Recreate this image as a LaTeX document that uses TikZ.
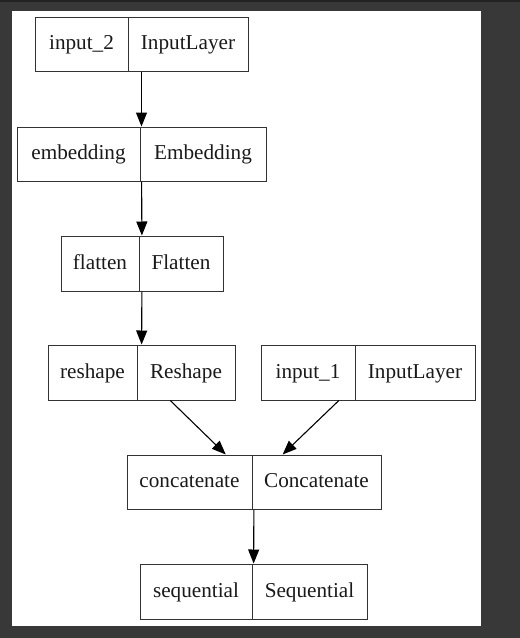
\documentclass[tikz,border=0pt]{standalone}
\usepackage{fontspec}
\setmainfont{Liberation Serif}
\usetikzlibrary{arrows.meta,fit}
\definecolor{bgdark}{HTML}{383838}
\definecolor{bgtop}{HTML}{222222}
\definecolor{boxline}{HTML}{333333}
\definecolor{txt}{HTML}{1A1A1A}
\tikzset{
  cell/.style={draw=boxline, line width=1pt, rectangle, inner sep=0pt, text=txt,
    text height=15.5pt, text depth=4pt,
    font=\fontsize{21.2}{25}\selectfont},
  whole/.style={inner sep=0pt, outer sep=0pt},
  arr/.style={draw=black, line width=1.1pt, -{Triangle[length=14pt,width=11pt]}},
}
\newcommand\recnode[8]{%
  \node[cell, minimum width={(#3-#2)*1pt}, minimum height={(#6-#5)*1pt}]
    (#1L) at ({(#2+#3)/2},{(#5+#6)/2}) {#7};
  \node[cell, minimum width={(#4-#3)*1pt}, minimum height={(#6-#5)*1pt}]
    (#1R) at ({(#3+#4)/2},{(#5+#6)/2}) {#8};
  \node[whole, fit=(#1L)(#1R)] (#1) {};
}
\begin{document}
\begin{tikzpicture}[x=1pt,y=-1pt]
\fill[bgdark] (0,0) rectangle (520,638);
\fill[bgtop] (0,0) rectangle (520,2);
\fill[white] (12,11) rectangle (481,626);
\useasboundingbox (0,0) rectangle (520,638);

\recnode{intwo}{35}{128}{248}{17}{71}{input\_2}{InputLayer}
\recnode{emb}{17}{140}{266}{127}{181}{embedding}{Embedding}
\recnode{fla}{61}{139}{223}{236}{291}{flatten}{Flatten}
\recnode{res}{48}{137}{235}{345}{400}{reshape}{Reshape}
\recnode{inone}{261}{355}{475}{345}{400}{input\_1}{InputLayer}
\recnode{con}{127}{252}{381}{455}{509}{concatenate}{Concatenate}
\recnode{seq}{140}{252}{367}{564}{619}{sequential}{Sequential}

\draw[arr] (intwo) -- (emb);
\draw[arr] (emb) -- (fla);
\draw[arr] (fla) -- (res);
\draw[arr] (res) -- (con);
\draw[arr] (inone) -- (con);
\draw[arr] (con) -- (seq);
\end{tikzpicture}
\end{document}
